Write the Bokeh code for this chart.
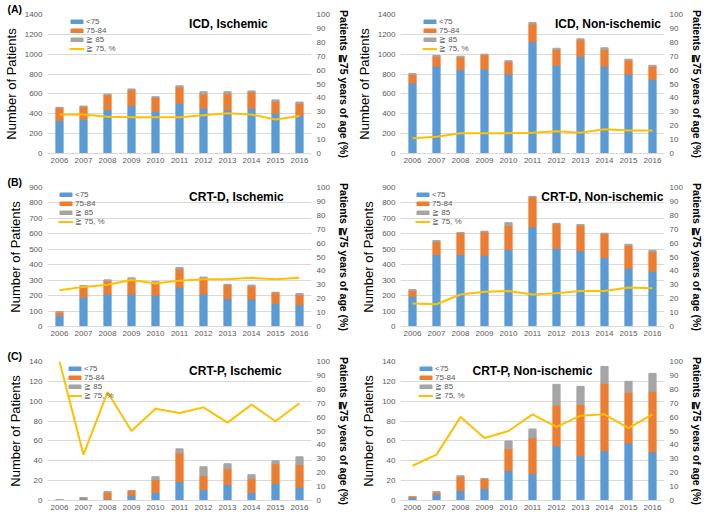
from bokeh.plotting import figure
from bokeh.models import Range1d, LinearAxis, FactorRange, Label, ColumnDataSource, FixedTicker
from bokeh.layouts import gridplot
from bokeh.embed import file_html
from bokeh.resources import INLINE

years = ["2006", "2007", "2008", "2009", "2010", "2011", "2012", "2013", "2014", "2015", "2016"]
series_names = ["<75", "75-84", "≧ 85"]
line_name = "≧ 75, %"

# (A) ICD, Ischemic
icd_isc_lt75 = [335, 345, 440, 480, 425, 505, 455, 440, 455, 405, 385]
icd_isc_7584 = [125, 125, 150, 160, 140, 165, 145, 165, 165, 120, 120]
icd_isc_ge85 = [5, 8, 8, 10, 7, 12, 22, 17, 10, 15, 13]
icd_isc_pct = [28, 28, 26.5, 26, 26, 26, 27.5, 29, 28, 24.5, 27]

# (A) ICD, Non-ischemic
icd_non_lt75 = [710, 880, 845, 850, 800, 1125, 890, 980, 880, 800, 745]
icd_non_7584 = [85, 100, 125, 145, 125, 180, 155, 165, 170, 140, 135]
icd_non_ge85 = [10, 8, 10, 5, 10, 15, 15, 10, 15, 10, 8]
icd_non_pct = [11, 12, 14.5, 14.5, 14.5, 15, 16, 15, 17.5, 16.5, 16.5]

# (B) CRT-D, Ischemic
crtd_isc_lt75 = [70, 190, 210, 210, 200, 252, 210, 180, 178, 150, 140]
crtd_isc_7584 = [22, 68, 85, 95, 85, 120, 105, 90, 84, 68, 65]
crtd_isc_ge85 = [5, 7, 7, 10, 7, 10, 5, 3, 6, 4, 8]
crtd_isc_pct = [26, 28.5, 30, 33.5, 31, 33, 34, 34, 35, 34, 35]

# (B) CRT-D, Non-ischemic
crtd_non_lt75 = [195, 465, 465, 460, 497, 645, 505, 490, 448, 378, 358]
crtd_non_7584 = [40, 85, 140, 152, 158, 195, 160, 165, 152, 147, 127]
crtd_non_ge85 = [3, 7, 3, 5, 17, 2, 3, 5, 4, 7, 8]
crtd_non_pct = [16.5, 16, 23, 25, 25.5, 23, 24, 25.5, 25.5, 28, 27.5]

# (C) CRT-P, Ischemic
crtp_isc_lt75 = [0, 2, 2, 5, 8, 19, 11, 16, 8, 17, 13]
crtp_isc_7584 = [1, 1, 6, 5, 13, 29, 14, 16, 14, 20, 23]
crtp_isc_ge85 = [0, 0, 1, 0, 3, 4, 9, 5, 4, 3, 8]
crtp_isc_pct = [100, 33, 78, 50, 66, 63, 67, 56, 69, 57, 70]

# (C) CRT-P, Non-ischemic
crtp_non_lt75 = [3, 6, 10, 12, 30, 27, 55, 45, 50, 58, 49]
crtp_non_7584 = [1, 2, 14, 10, 22, 36, 41, 52, 68, 51, 61]
crtp_non_ge85 = [0, 1, 1, 0, 8, 9, 21, 18, 17, 11, 18]
crtp_non_pct = [25, 33, 60, 45, 50, 62, 53, 61, 62, 52, 62]

left_ticks_A = [0, 200, 400, 600, 800, 1000, 1200, 1400]
left_ticks_B = [0, 100, 200, 300, 400, 500, 600, 700, 800, 900]
left_ticks_C = [0, 20, 40, 60, 80, 100, 120, 140]
right_ticks = [0, 10, 20, 30, 40, 50, 60, 70, 80, 90, 100]

BLUE, ORANGE, GRAY, YELLOW = "#5B9BD5", "#ED7D31", "#A5A5A5", "#FFC000"
FONT = "Liberation Sans"
TICK_COLOR = "#595959"
FW = 264
BL, BR = 44, 42


def panel(title, lt75, m7584, ge85, pct, ticks, FH, btop, bbot, title_x, title_align,
          legend_x, tag=None, tag_off=-40):
    ymax = ticks[-1]
    p = figure(x_range=FactorRange(*years), y_range=Range1d(0, ymax),
               frame_width=FW, frame_height=FH,
               output_backend="svg", toolbar_location=None,
               min_border_left=BL, min_border_right=BR, min_border_top=btop, min_border_bottom=bbot)
    p.extra_y_ranges = {"pct": Range1d(0, 100)}
    p.outline_line_color = None
    p.background_fill_color = "white"
    p.xgrid.grid_line_color = None
    p.ygrid.grid_line_color = "#D9D9D9"
    p.ygrid.ticker = FixedTicker(ticks=ticks)

    if tag:
        p.title.text = tag
        p.title.align = "left"
        p.title.offset = tag_off
        p.title.standoff = 0
        p.title.text_font = FONT
        p.title.text_font_size = "10.5px"
        p.title.text_font_style = "bold"
        p.title.text_color = "black"

    src = ColumnDataSource(dict(year=years, lt75=lt75, m7584=m7584, ge85=ge85, pct=pct))
    p.vbar_stack(["lt75", "m7584", "ge85"], x="year", width=0.3, color=[BLUE, ORANGE, GRAY],
                 source=src, legend_label=series_names)
    p.line("year", "pct", source=src, y_range_name="pct", color=YELLOW, line_width=2,
           legend_label=line_name)

    ly = p.yaxis[0]
    ly.ticker = FixedTicker(ticks=ticks)
    ly.axis_label = "Number of Patients"
    ly.axis_label_text_font = FONT
    ly.axis_label_text_font_size = "13px"
    ly.axis_label_text_font_style = "normal"
    ly.axis_label_text_color = "black"
    ly.axis_label_standoff = 3

    ry = LinearAxis(y_range_name="pct", ticker=FixedTicker(ticks=right_ticks),
                    axis_label="Patients ≧75 years of age (%)")
    ry.axis_label_text_font = FONT
    ry.axis_label_text_font_size = "10.5px"
    ry.axis_label_text_font_style = "bold"
    ry.axis_label_text_color = "black"
    ry.axis_label_standoff = 5
    p.add_layout(ry, "right")

    xa = p.xaxis[0]
    for ax in [ly, ry, xa]:
        ax.axis_line_color = None
        ax.major_tick_line_color = None
        ax.minor_tick_line_color = None
        ax.major_tick_out = 0
        ax.major_tick_in = 0
        ax.minor_tick_out = 0
        ax.minor_tick_in = 0
        ax.major_label_text_font = FONT
        ax.major_label_text_font_size = "8px"
        ax.major_label_text_color = TICK_COLOR
        ax.major_label_standoff = 5
    xa.axis_line_color = "#D9D9D9"
    xa.major_label_standoff = 4

    lg = p.legend[0]
    lg.label_text_font = FONT
    lg.label_text_font_size = "8px"
    lg.label_text_color = TICK_COLOR
    lg.glyph_width = 15
    lg.glyph_height = 5
    lg.label_height = 8
    lg.label_standoff = 2
    lg.spacing = 0
    lg.padding = 0
    lg.margin = 0
    lg.border_line_color = None
    lg.background_fill_alpha = 0
    lg.location = (legend_x, FH - 39)

    p.add_layout(Label(x=title_x, y=FH - 9, x_units="data", y_units="screen", text=title,
                       text_font=FONT, text_font_size="12px", text_font_style="bold",
                       text_color="black", text_align=title_align, text_baseline="middle"))
    return p


pA1 = panel("ICD, Ischemic", icd_isc_lt75, icd_isc_7584, icd_isc_ge85, icd_isc_pct, left_ticks_A,
            139, 13, 16, 5.9, "left", 22, tag="(A)")
pA2 = panel("ICD, Non-ischemic", icd_non_lt75, icd_non_7584, icd_non_ge85, icd_non_pct, left_ticks_A,
            139, 13, 16, 10.85, "right", 22)
pB1 = panel("CRT-D, Ischemic", crtd_isc_lt75, crtd_isc_7584, crtd_isc_ge85, crtd_isc_pct, left_ticks_B,
            139, 18, 14, 5.9, "left", 11, tag="(B)")
pB2 = panel("CRT-D, Non-ischemic", crtd_non_lt75, crtd_non_7584, crtd_non_ge85, crtd_non_pct, left_ticks_B,
            139, 18, 14, 10.95, "right", 15)
pC1 = panel("CRT-P, Ischemic", crtp_isc_lt75, crtp_isc_7584, crtp_isc_ge85, crtp_isc_pct, left_ticks_C,
            139, 21, 15, 5.9, "left", 20, tag="(C)")
pC2 = panel("CRT-P, Non-ischemic", crtp_non_lt75, crtp_non_7584, crtp_non_ge85, crtp_non_pct, left_ticks_C,
            139, 21, 15, 3.0, "left", 18)

grid = gridplot([[pA1, pA2], [pB1, pB2], [pC1, pC2]], toolbar_location=None)

open("out.html", "w").write(file_html(grid, INLINE))
